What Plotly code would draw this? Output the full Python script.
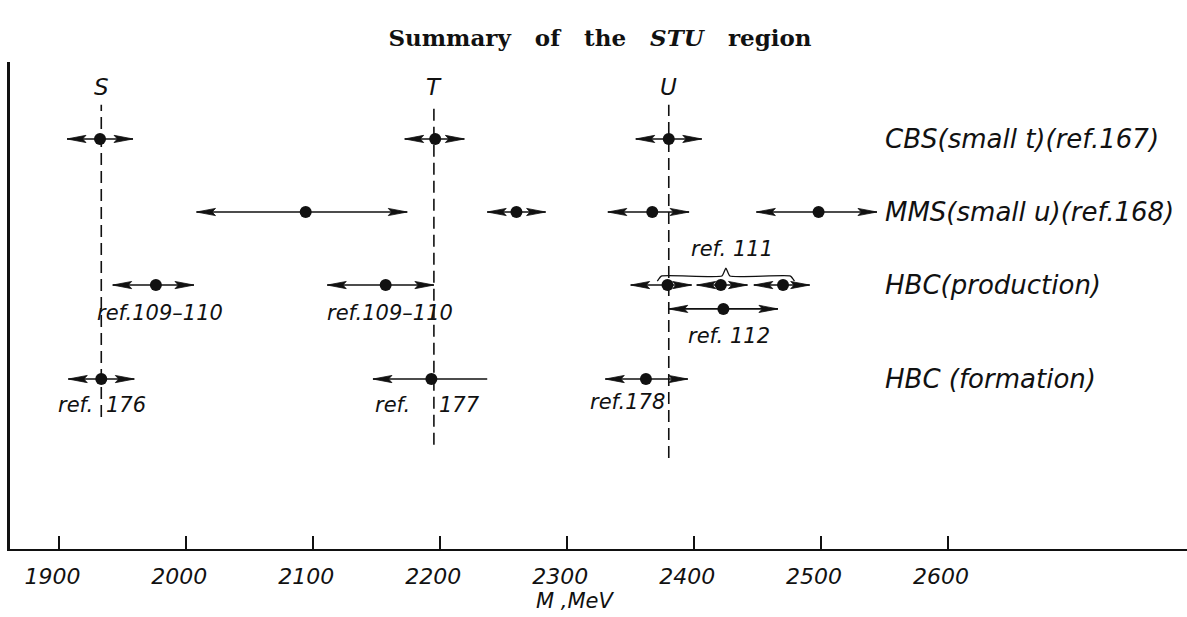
import plotly.graph_objects as go

# ---------------------------------------------------------------------------
# Mass determinations in MeV: central value plus lower / upper end of range
# ---------------------------------------------------------------------------
cbs_mass = [1932, 2196, 2380]
cbs_low = [1906, 2172, 2354]
cbs_high = [1958, 2219, 2406]

mms_mass = [2094, 2260, 2367, 2498]
mms_low = [2008, 2237, 2332, 2449]
mms_high = [2174, 2283, 2396, 2544]

ref109_mass = [1976, 2157]
ref109_low = [1942, 2111]
ref109_high = [2006, 2195]

ref111_mass = [2379, 2421, 2470]
ref111_low = [2350, 2402, 2447]
ref111_high = [2398, 2442, 2491]

ref112_mass = [2423]
ref112_low = [2380]
ref112_high = [2466]

formation_mass = [1933, 2193, 2362]
formation_low = [1907, 2147, 2330]
formation_high = [1959, 2237, 2395]
formation_refs = ["176", "177", "178"]

resonances = ["S", "T", "U"]
resonance_mass = [1933, 2195, 2380]

row_names = ["CBS(small t)(ref.167)", "MMS(small u)(ref.168)",
             "HBC(production)", "HBC (formation)"]

tick_values = [1900, 2000, 2100, 2200, 2300, 2400, 2500, 2600]

# ---------------------------------------------------------------------------
# Layout geometry
# ---------------------------------------------------------------------------
W, H = 1187, 617
ML, MR, MT, MB = 10, 0, 62, 68
X_RANGE = [1861.1, 2788.2]
Y_RANGE = [0.0, 10.0]
PW, PH = W - ML - MR, H - MT - MB
PX_X = PW / (X_RANGE[1] - X_RANGE[0])   # pixels per MeV
PX_Y = PH / (Y_RANGE[1] - Y_RANGE[0])   # pixels per row unit

Y_CBS, Y_MMS, Y_PROD, Y_112, Y_FORM = 8.42, 6.92, 5.42, 4.93, 3.49
row_levels = [Y_CBS, Y_MMS, Y_PROD, Y_FORM]
GUIDE_TOP = 9.12
guide_bottom = [2.71, 2.14, 1.87]
LETTER_Y = 9.49

HEAD_LEN = 19 / PX_X      # arrowhead length in MeV
HEAD_HALF = 3.6 / PX_Y    # arrowhead half-height in row units

INK = "#111111"
TXT = "DejaVu Sans"

seg_x, seg_y = [], []
head_x, head_y = [], []
dot_x, dot_y = [], []


def head(tip, y, direction):
    """Narrow notched arrowhead with its tip at `tip`; direction -1 = left."""
    back = tip - direction * HEAD_LEN
    notch = tip - direction * HEAD_LEN * 0.82
    head_x.extend([tip, back, notch, back, tip, None])
    head_y.extend([y, y + HEAD_HALF, y, y - HEAD_HALF, y, None])


def add_bar(mass, low, high, y, left_head=True, right_head=True):
    seg_x.extend([low, high, None])
    seg_y.extend([y, y, None])
    if left_head:
        head(low, y, -1)
    if right_head:
        head(high, y, +1)
    dot_x.append(mass)
    dot_y.append(y)


for m, lo, hi in zip(cbs_mass, cbs_low, cbs_high):
    add_bar(m, lo, hi, Y_CBS)
for m, lo, hi in zip(mms_mass, mms_low, mms_high):
    add_bar(m, lo, hi, Y_MMS)
for m, lo, hi in zip(ref109_mass, ref109_low, ref109_high):
    add_bar(m, lo, hi, Y_PROD)
for m, lo, hi in zip(ref111_mass, ref111_low, ref111_high):
    add_bar(m, lo, hi, Y_PROD)
for m, lo, hi in zip(ref112_mass, ref112_low, ref112_high):
    add_bar(m, lo, hi, Y_112)
for i, (m, lo, hi) in enumerate(zip(formation_mass, formation_low, formation_high)):
    # the T formation range is open on its upper side
    add_bar(m, lo, hi, Y_FORM, right_head=(i != 1))

fig = go.Figure()

# dashed guides through the S, T, U masses
for m, bottom in zip(resonance_mass, guide_bottom):
    fig.add_shape(type="line", xref="x", yref="y", x0=m, x1=m,
                  y0=bottom, y1=GUIDE_TOP,
                  line=dict(color=INK, width=1.6, dash="12px,6px"), layer="below")

fig.add_trace(go.Scatter(x=seg_x, y=seg_y, mode="lines",
                         line=dict(color=INK, width=1.6), hoverinfo="skip"))
fig.add_trace(go.Scatter(x=head_x, y=head_y, mode="lines", fill="toself",
                         fillcolor=INK, line=dict(color=INK, width=0.8),
                         hoverinfo="skip"))
fig.add_trace(go.Scatter(x=dot_x, y=dot_y, mode="markers",
                         marker=dict(color=INK, size=12, line=dict(width=0))))

# curly brace grouping the ref.111 measurements
b_left = ref111_mass[0] - 8
b_right = ref111_mass[-1] + 9
b_mid = (b_left + b_right) / 2
b_arm = Y_PROD + 9 / PX_Y
b_end = Y_PROD + 4 / PX_Y
b_tip = Y_PROD + 17 / PX_Y
hk = 4 / PX_X
fig.add_trace(go.Scatter(
    x=[b_left, b_left + hk, b_mid - hk, b_mid, b_mid + hk, b_right - hk, b_right],
    y=[b_end, b_arm, b_arm, b_tip, b_arm, b_arm, b_end],
    mode="lines", line=dict(color=INK, width=1.3, shape="spline", smoothing=0.4),
    hoverinfo="skip"))

ann = []
lab_font = dict(family=TXT, size=21, color=INK, style="italic")

# resonance letters above the guides
for name, m in zip(resonances, resonance_mass):
    ann.append(dict(x=m, y=LETTER_Y, xref="x", yref="y", text=name,
                    showarrow=False, font=dict(family=TXT, size=23, color=INK, style="italic")))

# experiment labels on the right
for name, yl in zip(row_names, row_levels):
    ann.append(dict(x=(883 - ML) / PW, y=yl, xref="paper", yref="y",
                    text=name, xanchor="left", showarrow=False,
                    font=dict(family=TXT, size=26, color=INK, style="italic")))

# reference labels
y_ref109 = Y_PROD - 28 / PX_Y
for m in ref109_mass:
    ann.append(dict(x=m, y=y_ref109, xref="x", yref="y", text="ref.109–110",
                    showarrow=False, xshift=4, font=lab_font))
ann.append(dict(x=b_mid, y=Y_PROD + 36 / PX_Y, xref="x", yref="y", text="ref. 111",
                showarrow=False, xshift=6, font=lab_font))
ann.append(dict(x=ref112_mass[0], y=Y_112 - 27 / PX_Y, xref="x", yref="y",
                text="ref. 112", showarrow=False, xshift=6, font=lab_font))

y_form_ref = Y_FORM - 26 / PX_Y
for i, (ref, gm) in enumerate(zip(formation_refs, resonance_mass)):
    if i < 2:
        ann.append(dict(x=gm, y=y_form_ref, xref="x", yref="y", text="ref.",
                        xanchor="right", xshift=-6 if i == 0 else -22,
                        showarrow=False, font=lab_font))
        ann.append(dict(x=gm, y=y_form_ref, xref="x", yref="y", text=ref,
                        xanchor="left", xshift=3, showarrow=False, font=lab_font))
    else:
        ann.append(dict(x=gm, y=y_form_ref + 3 / PX_Y, xref="x", yref="y",
                        text="ref." + ref, xanchor="right", xshift=-2,
                        showarrow=False, font=lab_font))

# axis title
ann.append(dict(x=(575 - ML) / PW, y=-(601 - (H - MB)) / PH, xref="paper",
                yref="paper", text="M ,MeV", showarrow=False, yanchor="middle",
                font=dict(family=TXT, size=21, color=INK, style="italic")))

fig.update_layout(
    width=W, height=H,
    margin=dict(l=ML, r=MR, t=MT, b=MB),
    paper_bgcolor="white", plot_bgcolor="white",
    showlegend=False,
    title=dict(text="Summary\u00a0\u00a0 of\u00a0\u00a0 the\u00a0\u00a0 <i>STU</i>\u00a0\u00a0 region",
               x=600 / W, xanchor="center", y=1 - 38 / H, yanchor="middle",
               font=dict(family="DejaVu Serif", size=23, color=INK, weight="bold")),
    annotations=ann,
    xaxis=dict(range=X_RANGE, showgrid=False, zeroline=False,
               showline=True, linecolor=INK, linewidth=2.2,
               ticks="inside", ticklen=13, tickwidth=1.6, tickcolor=INK,
               tickvals=tick_values, ticktext=[str(v) for v in tick_values],
               ticklabelstandoff=6, ticklabelshift=-7,
               tickfont=dict(family=TXT, size=22, color=INK, style="italic")),
    yaxis=dict(range=Y_RANGE, showgrid=False, zeroline=False,
               showline=True, linecolor=INK, linewidth=2.5,
               showticklabels=False, ticks=""),
)

fig.write_html("out.html")
